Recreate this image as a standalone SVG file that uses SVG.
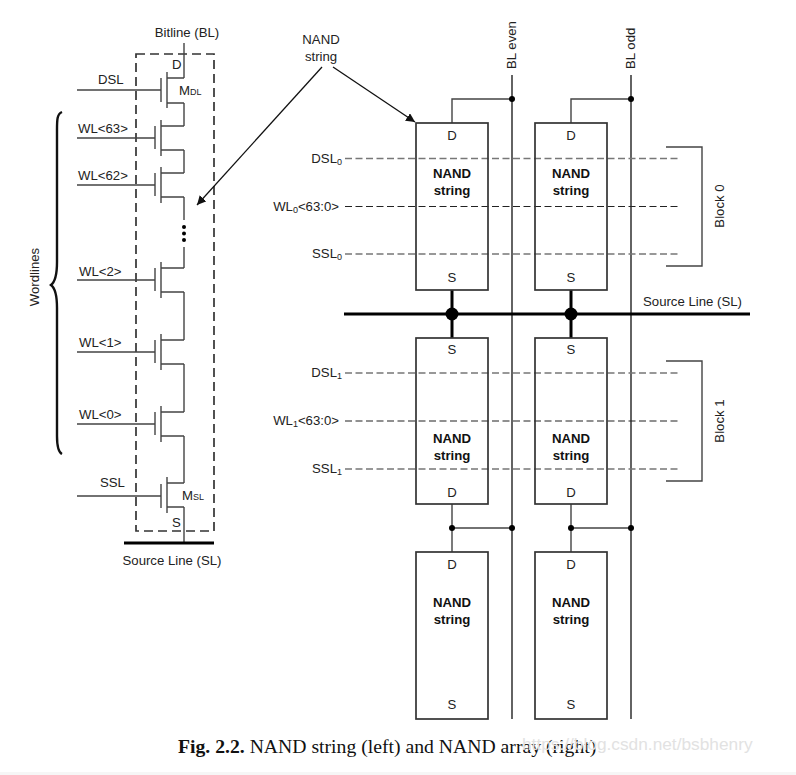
<svg xmlns="http://www.w3.org/2000/svg" width="796" height="775" viewBox="0 0 796 775">
<style>
text{font-family:"Liberation Sans",Arial,sans-serif;font-size:13.2px;fill:#222}
.c{text-anchor:middle}.e{text-anchor:end}.b{font-weight:bold;fill:#111}
.sub{font-size:9px}
.w{fill:none;stroke:#444;stroke-width:1.4}
.k{fill:none;stroke:#111;stroke-width:1.3}
.box{fill:none;stroke:#333;stroke-width:1.7}
.gd{fill:none;stroke:#777;stroke-width:1.6;stroke-dasharray:7 3.500}
.bd{fill:none;stroke:#222;stroke-width:1.2;stroke-dasharray:7 3.500}
.fr{fill:none;stroke:#333;stroke-width:1.7;stroke-dasharray:9 5}
.th{fill:none;stroke:#000;stroke-width:3}
.cap{font-family:"Liberation Serif","Times New Roman",serif;font-size:19.700px;fill:#111}
.mark{font-size:17.300px;fill:#e2e2e2}
</style>
<defs>
<marker id="ah" markerWidth="10" markerHeight="10" refX="9" refY="4.500" orient="auto" markerUnits="userSpaceOnUse"><path d="M0 0L9 4.500L0 9z" fill="#111"/></marker>
<g id="fet"><path class="w" d="M0 -12H-23M-23 -18V18M-29 -12V11M-29 0H-107M-23 12H0"/></g>
</defs>
<rect width="796" height="775" fill="#fff"/>
<rect y="772" width="796" height="3" fill="#f6f6f6"/>
<g id="connectors">
<path class="fr" d="M136 54H214V531H136Z"/>
<path class="w" d="M184 43V78M184 103V126M184 150V173M184 197V220M184 247V268M184 292V340M184 364V412M184 436V483M184 507V543"/>
<use href="#fet" x="184" y="138"/><use href="#fet" x="184" y="185"/><use href="#fet" x="184" y="280"/><use href="#fet" x="184" y="352"/><use href="#fet" x="184" y="424"/>
<path class="w" d="M184 78H167M167 72V108M161 78V102M161 90H77M167 103H184M184 483H167M167 477V513M161 484V508M161 496H77M167 507H184"/>
<path class="th" d="M124 543H214"/>
<circle cx="184" cy="227" r="2"/><circle cx="184" cy="233.500" r="2"/><circle cx="184" cy="240" r="2"/>
<path d="M62 112C57 114 57 120 57 130V262C57 276 55 282 51 285C55 288 57 294 57 308V436C57 446 58 452 62 454" fill="none" stroke="#111" stroke-width="2.400"/>
<path class="k" d="M322 67L197 205" marker-end="url(#ah)"/>
<path class="k" d="M333 67L415 122" marker-end="url(#ah)"/>
<path class="k" d="M512 75V719M631 75V719"/>
<path class="w" d="M452 123V99H512M571 123V99H631M452 504V552M571 504V552M452 528H512M571 528H631"/>
<circle cx="512" cy="99" r="3"/><circle cx="631" cy="99" r="3"/><circle cx="452" cy="528" r="3"/><circle cx="512" cy="528" r="3"/><circle cx="571" cy="528" r="3"/><circle cx="631" cy="528" r="3"/>
<path class="gd" d="M345 158.500H678M345 254H678M345 373H678M345 469H678"/>
<path class="bd" d="M345 206.500H678M345 421H678"/>
<path class="th" d="M344 314H750M452 290V338M571 290V338"/>
<circle cx="452" cy="314" r="6.500"/><circle cx="571" cy="314" r="6.500"/>
<path class="w" d="M666 147H702V266H666M666 361H702V481H666"/>
</g>
<g id="string-labels">
<text class="c" x="187" y="37">Bitline (BL)</text>
<text x="172" y="69">D</text>
<text x="98" y="84">DSL</text>
<text x="179" y="95">M<tspan class="sub">DL</tspan></text>
<text x="78" y="133">WL&lt;63&gt;</text>
<text x="78" y="180">WL&lt;62&gt;</text>
<text x="79" y="276">WL&lt;2&gt;</text>
<text x="79" y="347">WL&lt;1&gt;</text>
<text x="79" y="419">WL&lt;0&gt;</text>
<text x="100" y="487">SSL</text>
<text x="182" y="500">M<tspan class="sub">SL</tspan></text>
<text x="172" y="527">S</text>
<text class="c" x="172" y="565">Source Line (SL)</text>
<text class="c" transform="translate(39 277) rotate(-90)">Wordlines</text>
</g>
<g id="node-string-even-0"><rect class="box" x="416" y="123" width="72" height="167"/><text class="c" x="452" y="140">D</text><text class="c b" x="452" y="178">NAND</text><text class="c b" x="452" y="195">string</text><text class="c" x="452" y="282">S</text></g>
<g id="node-string-odd-0"><rect class="box" x="535" y="123" width="72" height="167"/><text class="c" x="571" y="140">D</text><text class="c b" x="571" y="178">NAND</text><text class="c b" x="571" y="195">string</text><text class="c" x="571" y="282">S</text></g>
<g id="node-string-even-1"><rect class="box" x="416" y="338" width="72" height="166"/><text class="c" x="452" y="354">S</text><text class="c b" x="452" y="443">NAND</text><text class="c b" x="452" y="460">string</text><text class="c" x="452" y="497">D</text></g>
<g id="node-string-odd-1"><rect class="box" x="535" y="338" width="72" height="166"/><text class="c" x="571" y="354">S</text><text class="c b" x="571" y="443">NAND</text><text class="c b" x="571" y="460">string</text><text class="c" x="571" y="497">D</text></g>
<g id="node-string-even-2"><rect class="box" x="416" y="552" width="72" height="167"/><text class="c" x="452" y="569">D</text><text class="c b" x="452" y="607">NAND</text><text class="c b" x="452" y="624">string</text><text class="c" x="452" y="709">S</text></g>
<g id="node-string-odd-2"><rect class="box" x="535" y="552" width="72" height="167"/><text class="c" x="571" y="569">D</text><text class="c b" x="571" y="607">NAND</text><text class="c b" x="571" y="624">string</text><text class="c" x="571" y="709">S</text></g>
<g id="array-labels">
<text class="c" x="321" y="44">NAND</text><text class="c" x="321" y="61">string</text>
<text transform="translate(516 69) rotate(-90)">BL even</text>
<text transform="translate(635 69) rotate(-90)">BL odd</text>
<text class="e" x="342" y="163">DSL<tspan class="sub" dy="2">0</tspan></text>
<text class="e" x="339" y="211">WL<tspan class="sub" dy="2">0</tspan><tspan dy="-2">&lt;63:0&gt;</tspan></text>
<text class="e" x="342" y="258">SSL<tspan class="sub" dy="2">0</tspan></text>
<text class="e" x="342" y="377">DSL<tspan class="sub" dy="2">1</tspan></text>
<text class="e" x="339" y="425">WL<tspan class="sub" dy="2">1</tspan><tspan dy="-2">&lt;63:0&gt;</tspan></text>
<text class="e" x="342" y="473">SSL<tspan class="sub" dy="2">1</tspan></text>
<text x="643" y="306">Source Line (SL)</text>
<text class="c" transform="translate(724 206) rotate(-90)">Block 0</text>
<text class="c" transform="translate(724 421) rotate(-90)">Block 1</text>
</g>
<text class="cap" x="178" y="753"><tspan font-weight="bold">Fig. 2.2.</tspan> NAND string (left) and NAND array (right)</text>
<text class="mark" x="522" y="750">https://blog.csdn.net/bsbhenry</text>
</svg>
